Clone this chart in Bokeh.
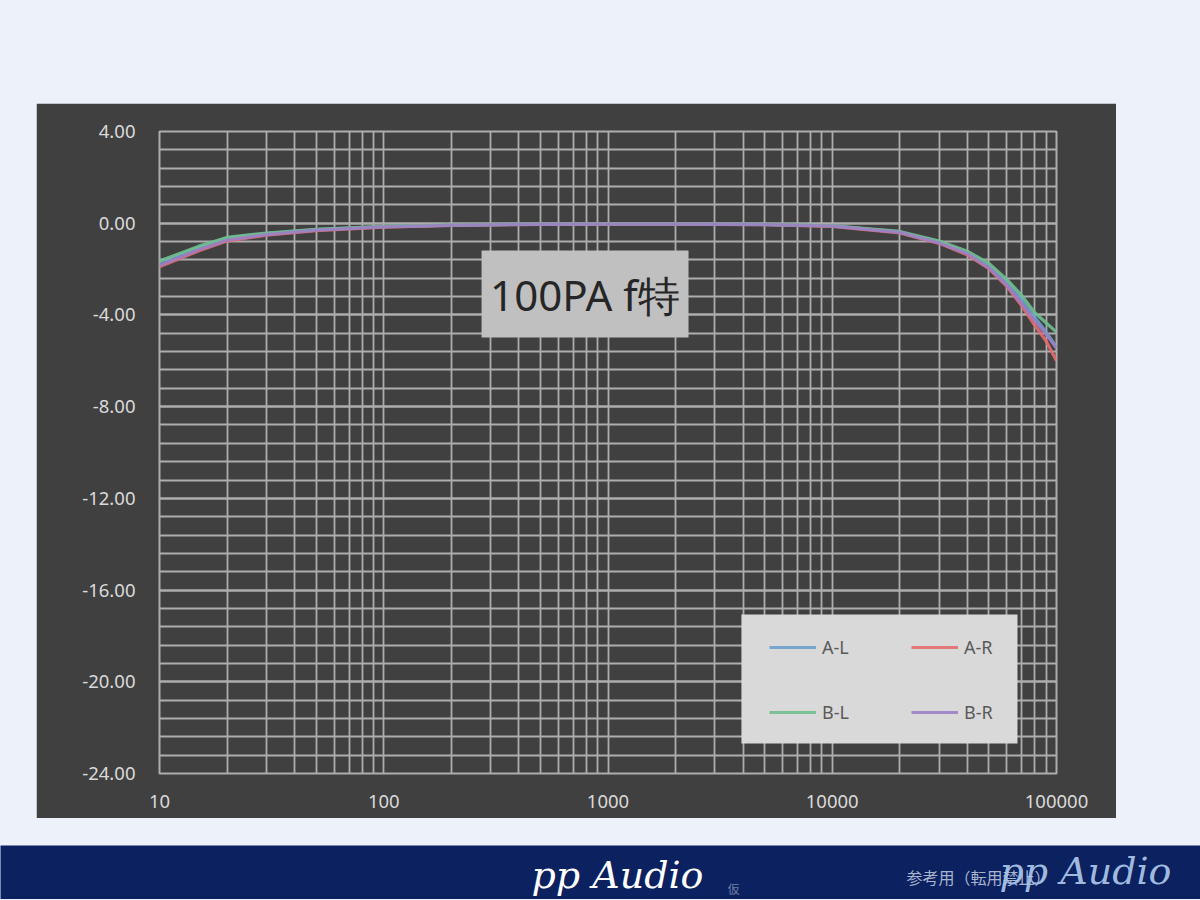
import numpy as np
from bokeh.plotting import figure
from bokeh.models import (FixedTicker, NumeralTickFormatter, BoxAnnotation, Label,
                          Legend, LegendItem, Spacer, Range1d)
from bokeh.layouts import column, row
from bokeh.core.properties import value
from bokeh.embed import file_html
from bokeh.resources import INLINE

# ---- data ----
freq = [10, 15, 20, 30, 50, 100, 200, 500, 1000, 2000, 5000, 10000,
        20000, 30000, 40000, 50000, 60000, 70000, 80000, 90000, 100000]
a_l = [-1.70, -1.05, -0.65, -0.45, -0.28, -0.15, -0.08, -0.04, -0.03, -0.03, -0.05, -0.12,
       -0.38, -0.82, -1.30, -1.85, -2.55, -3.30, -4.10, -4.75, -5.40]
a_r = [-1.90, -1.20, -0.78, -0.52, -0.32, -0.17, -0.09, -0.05, -0.04, -0.04, -0.06, -0.14,
       -0.42, -0.88, -1.38, -1.98, -2.75, -3.60, -4.45, -5.15, -6.00]
b_l = [-1.65, -1.00, -0.62, -0.43, -0.27, -0.14, -0.08, -0.04, -0.03, -0.03, -0.05, -0.11,
       -0.36, -0.78, -1.22, -1.75, -2.45, -3.15, -3.90, -4.35, -4.75]
b_r = [-1.85, -1.15, -0.74, -0.50, -0.30, -0.16, -0.09, -0.05, -0.04, -0.04, -0.06, -0.13,
       -0.40, -0.86, -1.33, -1.95, -2.70, -3.50, -4.25, -4.85, -5.45]
series_names = ["A-L", "A-R", "B-L", "B-R"]
series_vals = [a_l, a_r, b_l, b_r]
series_colors = ["#6A9FCB", "#E46C6C", "#6FBF8E", "#9C80C4"]
x_ticks = [10, 100, 1000, 10000, 100000]
y_ticks = [-24, -20, -16, -12, -8, -4, 0, 4]
title_text = "100PA f特"

DARK = "#404040"
GRID = "#ADADAD"
LABEL = "#DADADA"

p = figure(width=1080, height=715, x_axis_type="log",
           x_range=Range1d(10, 100000), y_range=Range1d(-24, 4),
           output_backend="svg", toolbar_location=None,
           background_fill_color=DARK, border_fill_color=DARK,
           min_border_left=123, min_border_right=60, min_border_top=28, min_border_bottom=45)
p.outline_line_color = GRID
p.outline_line_width = 2

x_minor = [m * 10 ** d for d in range(1, 5) for m in range(2, 10)]
y_minor = [round(-24 + 0.8 * i, 2) for i in range(36)]
p.xaxis.ticker = FixedTicker(ticks=x_ticks, minor_ticks=x_minor)
p.yaxis.ticker = FixedTicker(ticks=y_ticks, minor_ticks=y_minor)
p.xaxis.formatter = NumeralTickFormatter(format="0")
p.yaxis.formatter = NumeralTickFormatter(format="0.00")

for ax in (p.xaxis[0], p.yaxis[0]):
    ax.axis_line_color = None
    ax.major_tick_line_color = None
    ax.minor_tick_line_color = None
    ax.major_tick_out = 0
    ax.major_label_text_color = LABEL
    ax.major_label_text_font = "Noto Sans"
    ax.major_label_text_font_size = "18.5px"
p.yaxis.major_label_standoff = 20
p.xaxis.major_label_standoff = 17

for g in (p.xgrid[0], p.ygrid[0]):
    g.grid_line_color = GRID
    g.grid_line_width = 1.8
    g.minor_grid_line_color = GRID
    g.minor_grid_line_width = 1.8

renderers = {}
for name, vals, col in zip(series_names, series_vals, series_colors):
    renderers[name] = p.line(freq, vals, line_color=col, line_width=3.2, line_alpha=0.9)

# title box
p.add_layout(BoxAnnotation(left=273, right=2286, top=-1.19, bottom=-4.98,
                           fill_color="#C0C0C0", fill_alpha=1.0, line_color=None))
p.add_layout(Label(x=10 ** 2.897, y=-3.1, text=title_text, text_align="center",
                   text_baseline="middle", text_font="Noto Sans", text_font_size="42px",
                   text_color="#262626"))

# legend box
p.add_layout(BoxAnnotation(left=3936, right=67000, top=-17.07, bottom=-22.69,
                           fill_color="#D9D9D9", fill_alpha=1.0, line_color=None))
legend_order = ["A-L", "B-L", "A-R", "B-R"]
legend = Legend(items=[LegendItem(label=n, renderers=[renderers[n]]) for n in legend_order],
                ncols=2, location=(773 - 159 - 4, 773 - 743 + 11),
                background_fill_alpha=0, border_line_color=None, padding=4,
                glyph_width=47, glyph_height=40, label_height=40, label_width=64,
                label_standoff=6, spacing=25,
                label_text_font="Noto Sans", label_text_font_size="18px",
                label_text_color="#595959")
p.add_layout(legend)

# banner
BH = 54
b = figure(width=1200, height=BH, x_range=Range1d(0, 1200), y_range=Range1d(0, BH),
           output_backend="svg", toolbar_location=None,
           x_axis_type=None, y_axis_type=None, min_border=0,
           background_fill_color="#0B2160", border_fill_color="#0B2160")
b.outline_line_color = None
b.grid.visible = False
b.text(x=[617], y=[25], text=["pp Audio"], text_font=value("DejaVu Serif"),
       text_font_style="italic", text_font_size="38px", text_color="white",
       text_align="center", text_baseline="middle")
b.text(x=[733], y=[11], text=["仮"], text_font=value("Noto Sans CJK JP"),
       text_font_size="12px", text_color="#6F80A8", text_align="center", text_baseline="middle")
b.text(x=[978], y=[23], text=["参考用（転用禁止）"], text_font=value("Noto Sans CJK JP"),
       text_font_size="16px", text_color="#A9B5CE", text_align="center", text_baseline="middle")
b.text(x=[1085], y=[29], text=["pp Audio"], text_font=value("DejaVu Serif"),
       text_font_style="italic", text_font_size="38px", text_color="#A9C4E8",
       text_align="center", text_baseline="middle", text_alpha=0.95)

layout = column(Spacer(width=1200, height=103),
                row(Spacer(width=36, height=715), p),
                Spacer(width=1200, height=27),
                b)

html = file_html(layout, INLINE)
html = html.replace("<head>", "<head><style>html,body{background:#EDF1F9;margin:0;padding:0;overflow:hidden;}</style>", 1)
open("out.html", "w").write(html)
